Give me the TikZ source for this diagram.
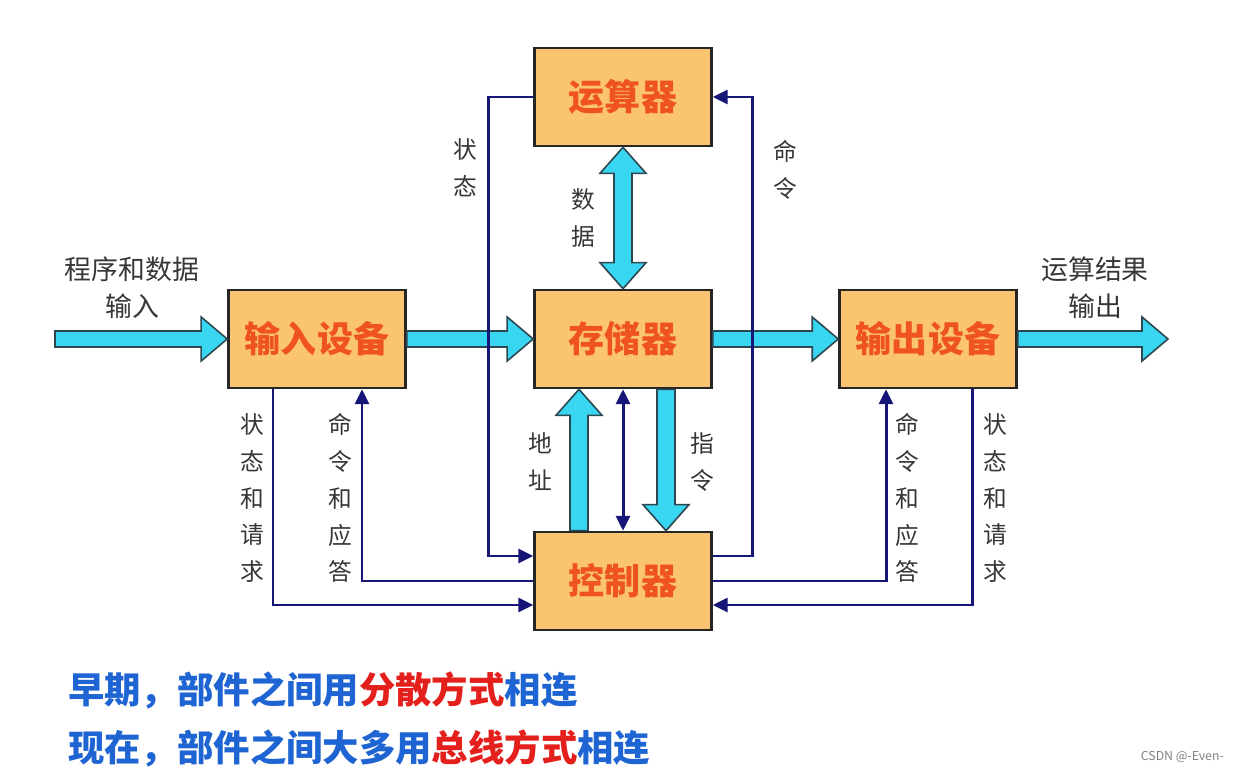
\documentclass[tikz,border=0pt]{standalone}
\usepackage{fontspec}
\setmainfont{Noto Sans CJK SC}
\usetikzlibrary{calc,arrows.meta}

\definecolor{boxfill}{RGB}{251,196,112}
\definecolor{boxtext}{RGB}{240,84,30}
\definecolor{buscyan}{RGB}{56,214,240}
\definecolor{busedge}{RGB}{45,70,80}
\definecolor{navy}{RGB}{22,22,120}
\definecolor{lblgray}{RGB}{55,55,55}
\definecolor{noteblue}{RGB}{30,100,210}
\definecolor{notered}{RGB}{228,32,28}

% fat data arrows, tip at #2
\newcommand{\busright}[2]{%
	\draw[fatbus] ($(#1)+(0,-8)$) -- ($(#2)+(-26,-8)$) -- ($(#2)+(-26,-22)$) -- (#2)
	-- ($(#2)+(-26,22)$) -- ($(#2)+(-26,8)$) -- ($(#1)+(0,8)$) -- cycle;}
\newcommand{\busup}[2]{%
	\draw[fatbus] ($(#1)+(-9,0)$) -- ($(#2)+(-9,26)$) -- ($(#2)+(-23,26)$) -- (#2)
	-- ($(#2)+(23,26)$) -- ($(#2)+(9,26)$) -- ($(#1)+(9,0)$) -- cycle;}
\newcommand{\busdown}[2]{%
	\draw[fatbus] ($(#1)+(-9,0)$) -- ($(#2)+(-9,-26)$) -- ($(#2)+(-23,-26)$) -- (#2)
	-- ($(#2)+(23,-26)$) -- ($(#2)+(9,-26)$) -- ($(#1)+(9,0)$) -- cycle;}
\newcommand{\busboth}[2]{%
	\draw[fatbus] (#1) -- ($(#1)+(23,26)$) -- ($(#1)+(9,26)$) -- ($(#2)+(9,-26)$)
	-- ($(#2)+(23,-26)$) -- (#2) -- ($(#2)+(-23,-26)$) -- ($(#2)+(-9,-26)$)
	-- ($(#1)+(-9,26)$) -- ($(#1)+(-23,26)$) -- cycle;}

\begin{document}
\begin{tikzpicture}[x=0.02cm,y=-0.02cm,
	unit/.style={draw=black!85,line width=1.5pt,fill=boxfill,minimum width=3.54cm,minimum height=1.96cm,
		text=boxtext,font=\fontsize{20.5}{22}\selectfont\bfseries},
	fatbus/.style={fill=buscyan,draw=busedge,line width=0.9pt,line join=miter},
	ctl/.style={draw=navy,line width=1.7pt,arrows={-{Triangle[length=8.5pt,width=8pt]}}},
	lbl/.style={text=lblgray,align=center,font=\fontsize{13.5}{21}\selectfont},
	note/.style={anchor=west,text=noteblue,font=\fontsize{20.7}{24}\selectfont\bfseries}]
	\useasboundingbox (0,0) rectangle (1237,773);

	\node [unit] (alu) at (623,97) {运算器};
	\node [unit] (mem) at (623,339) {存储器};
	\node [unit] (inp) at (317,339) {输入设备};
	\node [unit] (outp) at (928,339) {输出设备};
	\node [unit] (ctrl) at (623,581) {控制器};

	\coordinate (src) at (55,339);
	\coordinate (dst) at (1168,339);
	\coordinate (addrA) at ($(ctrl.north)+(-44,0)$);
	\coordinate (addrB) at ($(mem.south)+(-44,0)$);
	\coordinate (instA) at ($(mem.south)+(43,0)$);
	\coordinate (instB) at ($(ctrl.north)+(43,0)$);

	% data paths
	\busright{src}{inp.west}
	\busright{inp.east}{mem.west}
	\busright{mem.east}{outp.west}
	\busright{outp.east}{dst}
	\busboth{alu.south}{mem.north}
	\busup{addrA}{addrB}
	\busdown{instA}{instB}

	% control paths
	\draw [ctl] (alu.west) -- ++(-45,0) |- ($(ctrl.west)+(0,-25)$);
	\draw [ctl] ($(ctrl.east)+(0,-25)$) -- ++(40,0) |- (alu.east);
	\draw [ctl] ($(inp.south)+(-44,0)$) |- ($(ctrl.west)+(0,24)$);
	\draw [ctl] (ctrl.west) -| ($(inp.south)+(45,0)$);
	\draw [ctl] (ctrl.east) -| ($(outp.south)+(-42,0)$);
	\draw [ctl] ($(outp.south)+(44,0)$) |- ($(ctrl.east)+(0,24)$);
	\draw [ctl,arrows={{Triangle[length=8.5pt,width=8pt]}-{Triangle[length=8.5pt,width=8pt]}}] (mem.south) -- (ctrl.north);

	\node [lbl] (lstat) at (465,168) {状\\态};
	\node [lbl] (lcmd) at (785,170) {命\\令};
	\node [lbl] (ldata) at (583,218) {数\\据};
	\node [lbl,font=\fontsize{15.3}{21}\selectfont] (lin) at (132,288) {程序和数据\\输入};
	\node [lbl,font=\fontsize{15.3}{21}\selectfont] (lout) at (1095,288) {运算结果\\输出};
	\node [lbl] (linst) at (252,498) {状\\态\\和\\请\\求};
	\node [lbl] (linc) at (340,498) {命\\令\\和\\应\\答};
	\node [lbl] (laddr) at (540,462) {地\\址};
	\node [lbl] (lins) at (702,462) {指\\令};
	\node [lbl] (loutc) at (907,498) {命\\令\\和\\应\\答};
	\node [lbl] (louts) at (995,498) {状\\态\\和\\请\\求};

	\node [note] (early) at (62,690) {早期，部件之间用\textcolor{notered}{分散方式}相连};
	\node [note] (now) at (62,748) {现在，部件之间大多用\textcolor{notered}{总线方式}相连};
	\node [anchor=east,text=gray,font=\fontsize{7}{8}\selectfont] (mark) at (1230,757) {CSDN @-Even-};
\end{tikzpicture}
\end{document}
